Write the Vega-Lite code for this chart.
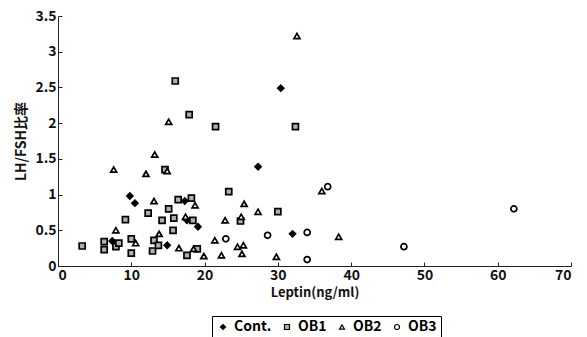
{
  "$schema": "https://vega.github.io/schema/vega-lite/v6.json",
  "width": 513,
  "height": 250,
  "autosize": {"type": "none"},
  "padding": {"left": 58, "top": 16, "right": 16, "bottom": 71},
  "background": "white",
  "config": {
    "view": {"stroke": null},
    "font": "Noto Sans CJK JP",
    "axis": {"grid": false, "domainColor": "#222", "tickColor": "#222", "labelColor": "#111", "titleColor": "#111", "labelFont": "Noto Sans CJK JP", "titleFont": "Noto Sans CJK JP", "labelFontWeight": "bold", "titleFontWeight": "bold", "labelFontSize": 14, "titleFontSize": 13}
  },
  "data": {"values": [
    {"x": 9.8, "y": 0.98, "g": "Cont."},
    {"x": 10.5, "y": 0.88, "g": "Cont."},
    {"x": 7.4, "y": 0.35, "g": "Cont."},
    {"x": 14.9, "y": 0.29, "g": "Cont."},
    {"x": 17.3, "y": 0.91, "g": "Cont."},
    {"x": 17.6, "y": 0.64, "g": "Cont."},
    {"x": 19.1, "y": 0.55, "g": "Cont."},
    {"x": 27.3, "y": 1.39, "g": "Cont."},
    {"x": 30.4, "y": 2.49, "g": "Cont."},
    {"x": 32.0, "y": 0.45, "g": "Cont."},
    {"x": 3.3, "y": 0.28, "g": "OB1"},
    {"x": 6.3, "y": 0.34, "g": "OB1"},
    {"x": 6.3, "y": 0.23, "g": "OB1"},
    {"x": 7.9, "y": 0.27, "g": "OB1"},
    {"x": 8.3, "y": 0.32, "g": "OB1"},
    {"x": 9.2, "y": 0.65, "g": "OB1"},
    {"x": 10.0, "y": 0.38, "g": "OB1"},
    {"x": 10.0, "y": 0.18, "g": "OB1"},
    {"x": 12.3, "y": 0.74, "g": "OB1"},
    {"x": 13.1, "y": 0.36, "g": "OB1"},
    {"x": 12.9, "y": 0.21, "g": "OB1"},
    {"x": 13.7, "y": 0.29, "g": "OB1"},
    {"x": 14.2, "y": 0.64, "g": "OB1"},
    {"x": 15.1, "y": 0.80, "g": "OB1"},
    {"x": 15.8, "y": 0.67, "g": "OB1"},
    {"x": 15.7, "y": 0.50, "g": "OB1"},
    {"x": 16.4, "y": 0.93, "g": "OB1"},
    {"x": 18.2, "y": 0.95, "g": "OB1"},
    {"x": 18.4, "y": 0.64, "g": "OB1"},
    {"x": 17.6, "y": 0.15, "g": "OB1"},
    {"x": 19.0, "y": 0.24, "g": "OB1"},
    {"x": 14.6, "y": 1.35, "g": "OB1"},
    {"x": 16.0, "y": 2.59, "g": "OB1"},
    {"x": 17.9, "y": 2.12, "g": "OB1"},
    {"x": 21.5, "y": 1.95, "g": "OB1"},
    {"x": 32.4, "y": 1.95, "g": "OB1"},
    {"x": 23.3, "y": 1.04, "g": "OB1"},
    {"x": 30.0, "y": 0.76, "g": "OB1"},
    {"x": 24.9, "y": 0.63, "g": "OB1"},
    {"x": 13.2, "y": 1.56, "g": "OB2"},
    {"x": 7.6, "y": 1.35, "g": "OB2"},
    {"x": 12.0, "y": 1.29, "g": "OB2"},
    {"x": 14.9, "y": 1.33, "g": "OB2"},
    {"x": 15.1, "y": 2.02, "g": "OB2"},
    {"x": 13.1, "y": 0.91, "g": "OB2"},
    {"x": 18.7, "y": 0.85, "g": "OB2"},
    {"x": 17.4, "y": 0.69, "g": "OB2"},
    {"x": 7.9, "y": 0.50, "g": "OB2"},
    {"x": 13.8, "y": 0.45, "g": "OB2"},
    {"x": 10.6, "y": 0.32, "g": "OB2"},
    {"x": 16.5, "y": 0.25, "g": "OB2"},
    {"x": 18.5, "y": 0.24, "g": "OB2"},
    {"x": 19.9, "y": 0.14, "g": "OB2"},
    {"x": 21.4, "y": 0.36, "g": "OB2"},
    {"x": 32.6, "y": 3.22, "g": "OB2"},
    {"x": 36.0, "y": 1.05, "g": "OB2"},
    {"x": 25.4, "y": 0.87, "g": "OB2"},
    {"x": 27.3, "y": 0.76, "g": "OB2"},
    {"x": 22.8, "y": 0.64, "g": "OB2"},
    {"x": 25.0, "y": 0.69, "g": "OB2"},
    {"x": 38.3, "y": 0.41, "g": "OB2"},
    {"x": 24.5, "y": 0.27, "g": "OB2"},
    {"x": 25.3, "y": 0.29, "g": "OB2"},
    {"x": 22.3, "y": 0.15, "g": "OB2"},
    {"x": 25.1, "y": 0.17, "g": "OB2"},
    {"x": 29.8, "y": 0.13, "g": "OB2"},
    {"x": 36.8, "y": 1.11, "g": "OB3"},
    {"x": 22.9, "y": 0.38, "g": "OB3"},
    {"x": 28.6, "y": 0.43, "g": "OB3"},
    {"x": 34.0, "y": 0.47, "g": "OB3"},
    {"x": 34.0, "y": 0.09, "g": "OB3"},
    {"x": 47.2, "y": 0.27, "g": "OB3"},
    {"x": 62.2, "y": 0.80, "g": "OB3"}
  ]},
  "mark": {"type": "point", "filled": true, "opacity": 1, "strokeWidth": 1.7, "stroke": "black", "size": 36},
  "encoding": {
    "x": {"field": "x", "type": "quantitative", "scale": {"domain": [0, 70], "nice": false}, "axis": {"values": [0, 10, 20, 30, 40, 50, 60, 70], "title": "Leptin(ng/ml)", "tickSize": -4, "labelPadding": 6, "titlePadding": 4}},
    "y": {"field": "y", "type": "quantitative", "scale": {"domain": [0, 3.5], "nice": false}, "axis": {"values": [0, 0.5, 1, 1.5, 2, 2.5, 3, 3.5], "labelExpr": "'' + datum.value", "title": "LH/FSH比率", "titleFontSize": 14, "tickSize": -4, "labelPadding": 6, "titlePadding": 6}},
    "shape": {"field": "g", "type": "nominal", "scale": {"domain": ["Cont.", "OB1", "OB2", "OB3"], "range": ["diamond", "square", "triangle-up", "circle"]}, "legend": {"title": null, "orient": "none", "legendX": 154, "legendY": 300, "direction": "horizontal", "strokeColor": "black", "padding": 4, "labelFontSize": 14, "labelFontWeight": "bold", "labelFont": "Noto Sans CJK JP", "symbolSize": 25, "columnPadding": 8, "labelOffset": 4, "symbolStrokeWidth": 1.2}},
    "fill": {"field": "g", "type": "nominal", "scale": {"domain": ["Cont.", "OB1", "OB2", "OB3"], "range": ["black", "#b0b0b0", "white", "white"]}, "legend": {"title": null, "orient": "none", "legendX": 154, "legendY": 300, "direction": "horizontal", "strokeColor": "black", "padding": 4, "labelFontSize": 14, "labelFontWeight": "bold", "labelFont": "Noto Sans CJK JP", "symbolSize": 25, "columnPadding": 8, "labelOffset": 4, "symbolStrokeWidth": 1.2}}
  }
}
